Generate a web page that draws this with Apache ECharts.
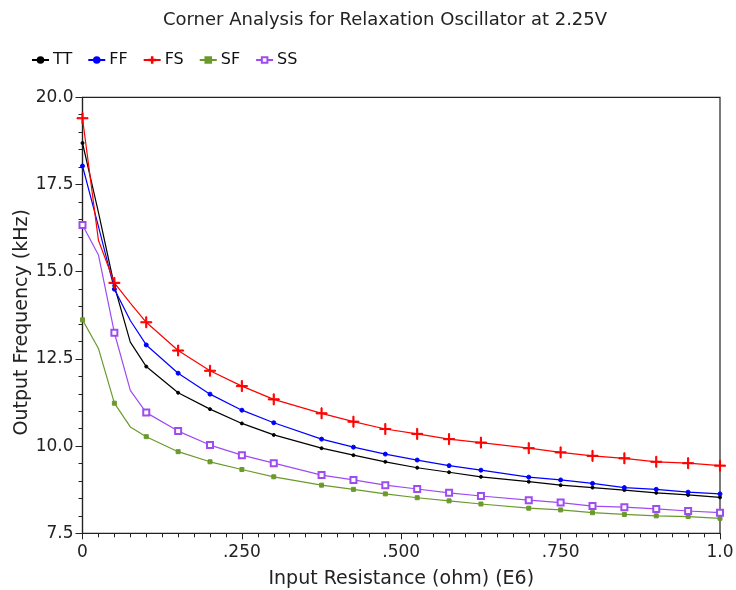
<!DOCTYPE html>
<html>
<head>
<meta charset="utf-8">
<script src="https://cdn.jsdelivr.net/npm/echarts@6/dist/echarts.min.js"></script>
<style>
  html, body { margin: 0; padding: 0; background: #fff; }
  #chart { width: 736px; height: 590px; }
</style>
</head>
<body>
<div id="chart"></div>
<script>
// input resistance (E6 ohm) sample points
var resistance = [0, 0.025, 0.05, 0.075, 0.1, 0.15, 0.2, 0.25, 0.3, 0.375, 0.425, 0.475, 0.525, 0.575, 0.625, 0.7, 0.75, 0.8, 0.85, 0.9, 0.95, 1.0];
// 1 = marker drawn at this point
var marked = [1, 0, 1, 0, 1, 1, 1, 1, 1, 1, 1, 1, 1, 1, 1, 1, 1, 1, 1, 1, 1, 1];

// output frequency (kHz) per corner
var tt = [18.69, 16.7, 14.59, 12.98, 12.28, 11.53, 11.06, 10.65, 10.32, 9.94, 9.74, 9.55, 9.38, 9.25, 9.12, 8.98, 8.88, 8.81, 8.74, 8.66, 8.60, 8.53];
var ff = [18.03, 16.3, 14.50, 13.6, 12.90, 12.09, 11.49, 11.03, 10.67, 10.20, 9.97, 9.77, 9.60, 9.44, 9.31, 9.11, 9.03, 8.93, 8.81, 8.76, 8.68, 8.63];
var fs = [19.40, 15.9, 14.68, 14.1, 13.55, 12.74, 12.16, 11.72, 11.34, 10.94, 10.70, 10.49, 10.35, 10.20, 10.10, 9.94, 9.82, 9.72, 9.65, 9.55, 9.51, 9.44];
var sf = [13.62, 12.80, 11.23, 10.55, 10.27, 9.84, 9.55, 9.33, 9.12, 8.88, 8.76, 8.63, 8.52, 8.43, 8.34, 8.22, 8.17, 8.09, 8.04, 8.00, 7.98, 7.93];
var ss = [16.34, 15.48, 13.25, 11.6, 10.96, 10.43, 10.03, 9.74, 9.51, 9.17, 9.03, 8.88, 8.77, 8.66, 8.57, 8.45, 8.38, 8.28, 8.25, 8.20, 8.14, 8.09];

var yTicks = ['7.5', '10.0', '12.5', '15.0', '17.5', '20.0'];

var plusPath = 'path://M4.5,0h1v4.5h4.5v1h-4.5v4.5h-1v-4.5h-4.5v-1h4.5z';

var font = 'DejaVu Sans';

function makeData(vals) {
    var res = [];
    for (var i = 0; i < vals.length; i++) {
        var item = { value: [resistance[i], vals[i]] };
        if (!marked[i]) item.symbol = 'none';
        res.push(item);
    }
    return res;
}

function makeSeries(name, vals, color, symbol, size) {
    return {
        name: name,
        type: 'line',
        data: makeData(vals),
        symbol: symbol,
        symbolSize: size,
        showAllSymbol: true,
        animation: false,
        lineStyle: { color: color, width: 1.2 },
        itemStyle: { color: color, borderColor: color, borderWidth: 1 }
    };
}

var myChart = echarts.init(document.getElementById('chart'));

var option = {
    backgroundColor: '#fff',
    animation: false,
    title: {
        text: 'Corner Analysis for Relaxation Oscillator at 2.25V',
        left: 380,
        textAlign: 'center',
        top: 6,
        textStyle: { fontFamily: font, fontSize: 18, fontWeight: 'normal', color: '#222' }
    },
    legend: {
        left: 26,
        top: 47,
        itemWidth: 17,
        itemHeight: 7,
        itemGap: 15,
        textStyle: { fontFamily: font, fontSize: 16, color: '#111', padding: [0, 0, 0, -1] },
        data: ['TT', 'FF', 'FS', 'SF', 'SS']
    },
    grid: {
        left: 82.5,
        right: 16,
        top: 97.3,
        bottom: 56.7,
        containLabel: false,
        outerBoundsMode: 'none',
        show: true,
        borderColor: '#222',
        borderWidth: 1.2
    },
    xAxis: {
        type: 'value',
        min: 0,
        max: 1,
        interval: 0.25,
        name: 'Input Resistance (ohm) (E6)',
        nameLocation: 'middle',
        nameGap: 36,
        nameMoveOverlap: false,
        nameTextStyle: { fontFamily: font, fontSize: 19, color: '#222' },
        axisLine: { show: true, lineStyle: { color: '#222', width: 1.2 } },
        axisTick: { show: true, length: 6, lineStyle: { color: '#222' } },
        minorTick: { show: true, splitNumber: 10, length: 4, lineStyle: { color: '#222' } },
        splitLine: { show: false },
        axisLabel: {
            margin: 11,
            fontFamily: font,
            fontSize: 17,
            color: '#222',
            formatter: function(v) {
                if (v === 0) return '0';
                if (v === 1) return '1.0';
                return v.toFixed(3).replace(/^0/, '');
            }
        }
    },
    yAxis: {
        type: 'value',
        min: 7.5,
        max: 20,
        interval: 2.5,
        name: 'Output Frequency (kHz)',
        nameLocation: 'middle',
        nameGap: 51,
        nameMoveOverlap: false,
        nameTextStyle: { fontFamily: font, fontSize: 19, color: '#222', padding: [0, 14, 0, 0] },
        axisLine: { show: true, lineStyle: { color: '#222', width: 1.2 } },
        axisTick: { show: true, length: 7, lineStyle: { color: '#222' } },
        minorTick: { show: true, splitNumber: 5, length: 4, lineStyle: { color: '#222' } },
        splitLine: { show: false },
        axisLabel: {
            margin: 9,
            fontFamily: font,
            fontSize: 17,
            color: '#222',
            formatter: function(v) {
                return yTicks[Math.round((v - 7.5) / 2.5)];
            }
        }
    },
    series: [
        makeSeries('TT', tt, '#000000', 'circle', 3),
        makeSeries('FF', ff, '#0000ff', 'circle', 4),
        makeSeries('FS', fs, '#ff0000', plusPath, 11),
        makeSeries('SF', sf, '#6b9a2c', 'rect', 4),
        makeSeries('SS', ss, '#9f4bf2', 'emptyRect', 6)
    ]
};

myChart.setOption(option);
</script>
</body>
</html>
